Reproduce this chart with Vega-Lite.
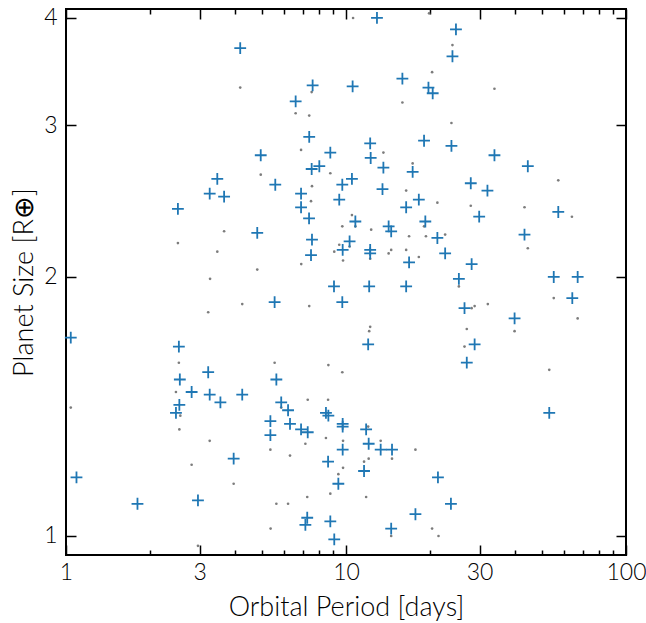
{
  "$schema": "https://vega.github.io/schema/vega-lite/v6.json",
  "width": 560,
  "height": 546,
  "autosize": {"type": "none"},
  "padding": {"left": 66, "top": 9, "right": 20, "bottom": 68},
  "background": "white",
  "config": {
    "view": {"stroke": "black", "strokeWidth": 2},
    "font": "Lato",
    "axis": {
      "grid": false,
      "domain": false,
      "tickColor": "black",
      "tickWidth": 1.5,
      "labelColor": "black",
      "titleColor": "black",
      "labelFont": "Lato",
      "titleFont": "Lato",
      "labelFontWeight": 300,
      "titleFontWeight": 300,
      "labelFontSize": 23,
      "titleFontSize": 27,
      "labelOverlap": false,
      "labelFlush": false
    }
  },
  "datasets": {
    "kepler": [
      {"period": 10.6, "radius": 4.0}, {"period": 19.8, "radius": 4.05}, {"period": 4.19, "radius": 3.32}, {"period": 7.54, "radius": 3.28},
      {"period": 15.9, "radius": 3.19}, {"period": 20.3, "radius": 3.46}, {"period": 6.61, "radius": 3.1}, {"period": 7.39, "radius": 3.08},
      {"period": 6.91, "radius": 2.81}, {"period": 13.6, "radius": 2.79}, {"period": 4.96, "radius": 2.63}, {"period": 8.79, "radius": 2.64},
      {"period": 17.3, "radius": 2.71}, {"period": 7.56, "radius": 2.55}, {"period": 16.4, "radius": 2.52}, {"period": 7.5, "radius": 2.45},
      {"period": 21.2, "radius": 2.44}, {"period": 10.5, "radius": 2.36}, {"period": 10.8, "radius": 2.29}, {"period": 9.7, "radius": 2.29},
      {"period": 19.0, "radius": 2.29}, {"period": 12.3, "radius": 2.27}, {"period": 3.67, "radius": 2.26}, {"period": 9.46, "radius": 2.18},
      {"period": 10.3, "radius": 2.17}, {"period": 9.08, "radius": 2.14}, {"period": 14.5, "radius": 2.15}, {"period": 14.2, "radius": 2.13},
      {"period": 16.4, "radius": 2.15}, {"period": 16.8, "radius": 2.23}, {"period": 19.3, "radius": 2.23}, {"period": 22.6, "radius": 2.24},
      {"period": 3.47, "radius": 2.14}, {"period": 9.76, "radius": 2.09}, {"period": 12.2, "radius": 2.1}, {"period": 18.2, "radius": 2.11},
      {"period": 6.92, "radius": 2.07}, {"period": 4.82, "radius": 2.04}, {"period": 3.27, "radius": 1.99}, {"period": 4.26, "radius": 1.86},
      {"period": 7.39, "radius": 1.85}, {"period": 3.22, "radius": 1.82}, {"period": 12.2, "radius": 1.75}, {"period": 12.1, "radius": 1.73},
      {"period": 5.56, "radius": 1.59}, {"period": 8.65, "radius": 1.58}, {"period": 9.7, "radius": 1.55}, {"period": 57.3, "radius": 2.59},
      {"period": 27.9, "radius": 2.42}, {"period": 43.4, "radius": 2.41}, {"period": 64.1, "radius": 2.35}, {"period": 44.6, "radius": 2.16},
      {"period": 25.3, "radius": 1.95}, {"period": 55.2, "radius": 1.89}, {"period": 28.1, "radius": 1.84}, {"period": 28.8, "radius": 1.85},
      {"period": 32.1, "radius": 1.86}, {"period": 40.0, "radius": 1.73}, {"period": 67.2, "radius": 1.79}, {"period": 27.0, "radius": 1.74},
      {"period": 26.5, "radius": 1.66}, {"period": 53.2, "radius": 1.56}, {"period": 24.0, "radius": 3.72}, {"period": 33.9, "radius": 3.31},
      {"period": 23.8, "radius": 3.02}, {"period": 7.3, "radius": 1.44}, {"period": 8.63, "radius": 1.44}, {"period": 5.87, "radius": 1.41},
      {"period": 12.0, "radius": 1.34}, {"period": 3.26, "radius": 1.29}, {"period": 8.48, "radius": 1.3}, {"period": 9.76, "radius": 1.29},
      {"period": 7.16, "radius": 1.28}, {"period": 13.3, "radius": 1.29}, {"period": 5.37, "radius": 1.26}, {"period": 6.31, "radius": 1.24},
      {"period": 14.6, "radius": 1.23}, {"period": 12.05, "radius": 1.23}, {"period": 11.6, "radius": 1.22}, {"period": 17.7, "radius": 1.26},
      {"period": 9.76, "radius": 1.2}, {"period": 9.39, "radius": 1.18}, {"period": 3.97, "radius": 1.15}, {"period": 8.79, "radius": 1.12},
      {"period": 11.8, "radius": 1.11}, {"period": 5.64, "radius": 1.09}, {"period": 6.21, "radius": 1.09}, {"period": 7.27, "radius": 1.11},
      {"period": 14.5, "radius": 1.0}, {"period": 5.38, "radius": 1.02}, {"period": 20.3, "radius": 1.02}, {"period": 21.4, "radius": 1.0},
      {"period": 1.04, "radius": 1.41}, {"period": 2.96, "radius": 0.974}, {"period": 2.47, "radius": 1.47}, {"period": 2.56, "radius": 1.38},
      {"period": 2.54, "radius": 1.33}, {"period": 2.81, "radius": 1.21}, {"period": 2.51, "radius": 2.19}, {"period": 2.53, "radius": 1.59}
    ],
    "sample": [
      {"period": 12.9, "radius": 4.0}, {"period": 4.19, "radius": 3.69}, {"period": 7.6, "radius": 3.34}, {"period": 10.56, "radius": 3.33},
      {"period": 15.9, "radius": 3.4}, {"period": 19.7, "radius": 3.32}, {"period": 20.4, "radius": 3.27}, {"period": 6.61, "radius": 3.2},
      {"period": 24.0, "radius": 3.61}, {"period": 24.7, "radius": 3.88}, {"period": 7.39, "radius": 2.91}, {"period": 12.2, "radius": 2.86},
      {"period": 19.0, "radius": 2.88}, {"period": 23.8, "radius": 2.84}, {"period": 4.96, "radius": 2.77}, {"period": 8.79, "radius": 2.79},
      {"period": 12.25, "radius": 2.75}, {"period": 3.47, "radius": 2.6}, {"period": 3.26, "radius": 2.5}, {"period": 3.67, "radius": 2.48},
      {"period": 5.59, "radius": 2.56}, {"period": 7.54, "radius": 2.67}, {"period": 8.03, "radius": 2.69}, {"period": 13.6, "radius": 2.68},
      {"period": 17.3, "radius": 2.65}, {"period": 10.5, "radius": 2.6}, {"period": 9.7, "radius": 2.56}, {"period": 13.5, "radius": 2.53},
      {"period": 6.91, "radius": 2.5}, {"period": 18.2, "radius": 2.46}, {"period": 9.46, "radius": 2.46}, {"period": 16.4, "radius": 2.41},
      {"period": 6.91, "radius": 2.41}, {"period": 7.38, "radius": 2.34}, {"period": 10.8, "radius": 2.32}, {"period": 19.2, "radius": 2.32},
      {"period": 14.2, "radius": 2.29}, {"period": 14.5, "radius": 2.26}, {"period": 4.82, "radius": 2.25}, {"period": 7.56, "radius": 2.21},
      {"period": 10.3, "radius": 2.2}, {"period": 9.73, "radius": 2.15}, {"period": 12.2, "radius": 2.15}, {"period": 12.2, "radius": 2.13},
      {"period": 21.2, "radius": 2.22}, {"period": 22.6, "radius": 2.13}, {"period": 7.5, "radius": 2.12}, {"period": 16.8, "radius": 2.08},
      {"period": 9.06, "radius": 1.95}, {"period": 12.1, "radius": 1.95}, {"period": 16.4, "radius": 1.95}, {"period": 9.7, "radius": 1.87},
      {"period": 5.56, "radius": 1.87}, {"period": 12.0, "radius": 1.67}, {"period": 3.22, "radius": 1.55}, {"period": 5.64, "radius": 1.52},
      {"period": 27.9, "radius": 2.57}, {"period": 32.0, "radius": 2.52}, {"period": 29.9, "radius": 2.35}, {"period": 57.3, "radius": 2.38},
      {"period": 43.4, "radius": 2.24}, {"period": 28.1, "radius": 2.07}, {"period": 25.3, "radius": 1.99}, {"period": 55.2, "radius": 2.0},
      {"period": 67.2, "radius": 2.0}, {"period": 64.3, "radius": 1.89}, {"period": 26.5, "radius": 1.84}, {"period": 40.0, "radius": 1.79},
      {"period": 28.8, "radius": 1.67}, {"period": 27.0, "radius": 1.59}, {"period": 33.9, "radius": 2.77}, {"period": 44.6, "radius": 2.69},
      {"period": 3.26, "radius": 1.46}, {"period": 3.56, "radius": 1.43}, {"period": 4.26, "radius": 1.46}, {"period": 5.87, "radius": 1.43},
      {"period": 6.21, "radius": 1.4}, {"period": 8.48, "radius": 1.39}, {"period": 8.65, "radius": 1.38}, {"period": 5.37, "radius": 1.36},
      {"period": 6.31, "radius": 1.35}, {"period": 6.91, "radius": 1.33}, {"period": 7.3, "radius": 1.32}, {"period": 5.37, "radius": 1.31},
      {"period": 9.73, "radius": 1.35}, {"period": 9.73, "radius": 1.34}, {"period": 11.8, "radius": 1.33}, {"period": 12.05, "radius": 1.28},
      {"period": 13.3, "radius": 1.26}, {"period": 14.6, "radius": 1.26}, {"period": 9.73, "radius": 1.26}, {"period": 3.97, "radius": 1.23},
      {"period": 8.63, "radius": 1.22}, {"period": 11.6, "radius": 1.19}, {"period": 9.39, "radius": 1.15}, {"period": 21.3, "radius": 1.17},
      {"period": 7.27, "radius": 1.05}, {"period": 7.16, "radius": 1.03}, {"period": 8.79, "radius": 1.04}, {"period": 9.08, "radius": 0.991},
      {"period": 14.5, "radius": 1.02}, {"period": 17.7, "radius": 1.06}, {"period": 23.7, "radius": 1.09}, {"period": 53.2, "radius": 1.39},
      {"period": 1.09, "radius": 1.17}, {"period": 1.8, "radius": 1.09}, {"period": 2.96, "radius": 1.1}, {"period": 2.55, "radius": 1.52},
      {"period": 2.81, "radius": 1.47}, {"period": 2.54, "radius": 1.42}, {"period": 2.47, "radius": 1.39}, {"period": 2.51, "radius": 2.4},
      {"period": 1.04, "radius": 1.7}, {"period": 2.53, "radius": 1.66}
    ]
  },
  "layer": [
    {
      "data": {"name": "kepler"},
      "mark": {"type": "point", "shape": "circle", "filled": true, "size": 7, "color": "#6e6e6e", "opacity": 0.9},
      "encoding": {
        "x": {
          "field": "period", "type": "quantitative",
          "scale": {"type": "log", "domain": [1, 100], "nice": false},
          "axis": {
            "orient": "bottom",
            "title": "Orbital Period [days]",
            "values": [1, 2, 3, 4, 5, 6, 7, 8, 9, 10, 20, 30, 40, 50, 60, 70, 80, 90, 100],
            "tickSize": {"condition": {"test": "indexof([1, 3, 10, 30, 100], datum.value) >= 0", "value": -10}, "value": -5},
            "labelExpr": "indexof([1, 3, 10, 30, 100], datum.value) >= 0 ? datum.value + '' : ''",
            "labelPadding": 16,
            "titlePadding": 5
          }
        },
        "y": {
          "field": "radius", "type": "quantitative",
          "scale": {"type": "log", "domain": [0.9504, 4.097], "nice": false, "zero": false},
          "axis": {
            "orient": "left",
            "title": "Planet Size [R⊕]",
            "values": [1, 2, 3, 4],
            "tickSize": -10,
            "labelExpr": "datum.value + ''",
            "labelPadding": 19,
            "titlePadding": 5
          }
        }
      }
    },
    {
      "data": {"name": "sample"},
      "mark": {"type": "point", "shape": "M-1,0L1,0M0,-1L0,1", "filled": false, "size": 140, "strokeWidth": 1.8, "color": "#1f77b4", "opacity": 1},
      "encoding": {
        "x": {
          "field": "period", "type": "quantitative",
          "axis": {
            "orient": "top",
            "title": null,
            "labels": false,
            "values": [1, 2, 3, 4, 5, 6, 7, 8, 9, 10, 20, 30, 40, 50, 60, 70, 80, 90, 100],
            "tickSize": {"condition": {"test": "indexof([1, 3, 10, 30, 100], datum.value) >= 0", "value": -10}, "value": -5}
          }
        },
        "y": {
          "field": "radius", "type": "quantitative",
          "axis": {
            "orient": "right",
            "title": null,
            "labels": false,
            "values": [1, 2, 3, 4],
            "tickSize": -10
          }
        }
      }
    }
  ],
  "resolve": {"axis": {"x": "independent", "y": "independent"}}
}
